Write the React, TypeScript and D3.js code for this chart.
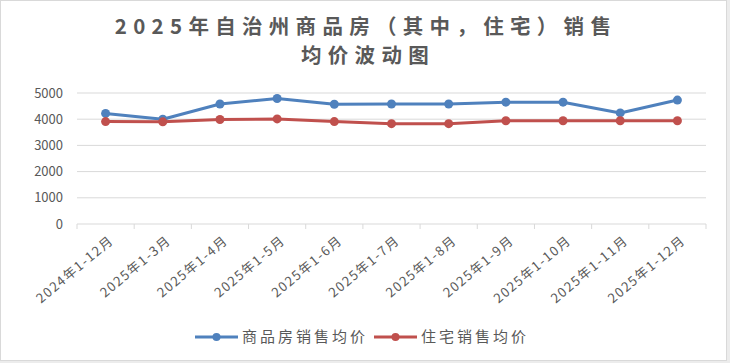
import React from "react";
import * as d3 from "d3";

const categories = [
  "2024年1-12月",
  "2025年1-3月",
  "2025年1-4月",
  "2025年1-5月",
  "2025年1-6月",
  "2025年1-7月",
  "2025年1-8月",
  "2025年1-9月",
  "2025年1-10月",
  "2025年1-11月",
  "2025年1-12月",
];
const commercial = [4220, 4000, 4580, 4790, 4570, 4580, 4580, 4650, 4650, 4240, 4730];
const residential = [3910, 3900, 3990, 4010, 3910, 3830, 3830, 3940, 3940, 3940, 3940];
const yTicks = [0, 1000, 2000, 3000, 4000, 5000];
const seriesNames = ["商品房销售均价", "住宅销售均价"];
const titleLines = ["2025年自治州商品房（其中，住宅）销售", "均价波动图"];
const colors = ["#4f81bd", "#c0504d"];

const W = 730;
const H = 363;
const FONT = "'Noto Sans CJK SC', 'Noto Sans', sans-serif";
const TEXT = "#595959";

const App = () => {
  const x = d3.scaleBand().domain(categories).range([77, 706]);
  const y = d3.scaleLinear().domain([0, 5000]).range([224, 93]);

  const line = d3
    .line<number>()
    .x((_, i) => x(categories[i])! + x.bandwidth() / 2)
    .y((d) => y(d));

  const series = [commercial, residential];

  // tick marks sit on the band edges
  const edges = categories.map((c) => x(c)!).concat([706]);

  return (
    <svg
      width={W}
      height={H}
      style={{ position: "fixed", left: 0, top: 0 }}
      fontFamily={FONT}
    >
      <rect x={0} y={0} width={W} height={H} fill="#ececec" />
      <rect x={0.5} y={0.5} width={726} height={360} fill="#fff" stroke="#d9d9d9" />

      {/* title */}
      <text x={366} y={34} textAnchor="middle" fontSize={20.5} fontWeight="bold" fill={TEXT} letterSpacing={6.3}>
        {titleLines[0]}
      </text>
      <text x={368} y={63} textAnchor="middle" fontSize={20.5} fontWeight="bold" fill={TEXT} letterSpacing={6.3}>
        {titleLines[1]}
      </text>

      {/* grid + y labels */}
      {yTicks.map((t) => (
        <g key={t}>
          {t > 0 && (
            <line x1={77} x2={706} y1={y(t)} y2={y(t)} stroke="#d9d9d9" strokeWidth={1} />
          )}
          <text x={63} y={y(t)} dy="0.35em" textAnchor="end" fontSize={13} fill={TEXT}>
            {t}
          </text>
        </g>
      ))}

      {/* x axis */}
      <line x1={77} x2={706} y1={y(0)} y2={y(0)} stroke="#d9d9d9" strokeWidth={1} />
      {edges.map((e, i) => (
        <line key={i} x1={e} x2={e} y1={y(0)} y2={y(0) + 5} stroke="#d9d9d9" />
      ))}
      {categories.map((c) => {
        const cx = x(c)! + x.bandwidth() / 2;
        return (
          <text
            key={c}
            transform={`translate(${cx + 9},${242}) rotate(-40)`}
            textAnchor="end"
            fontSize={13}
            letterSpacing={1.5}
            fill={TEXT}
          >
            {c}
          </text>
        );
      })}

      {/* lines */}
      {series.map((s, si) => (
        <g key={si}>
          <path d={line(s)!} fill="none" stroke={colors[si]} strokeWidth={3} strokeLinejoin="round" />
          {s.map((v, i) => (
            <circle
              key={i}
              cx={x(categories[i])! + x.bandwidth() / 2}
              cy={y(v)}
              r={4.5}
              fill={colors[si]}
            />
          ))}
        </g>
      ))}

      {/* legend */}
      {seriesNames.map((n, i) => {
        const lx = i === 0 ? 195 : 374;
        return (
          <g key={n}>
            <line x1={lx} x2={lx + 43} y1={337} y2={337} stroke={colors[i]} strokeWidth={3} />
            <circle cx={lx + 21.5} cy={337} r={4} fill={colors[i]} />
            <text x={lx + 47} y={337} dy="0.35em" fontSize={15} letterSpacing={3} fill={TEXT}>
              {n}
            </text>
          </g>
        );
      })}
    </svg>
  );
};

export default App;
